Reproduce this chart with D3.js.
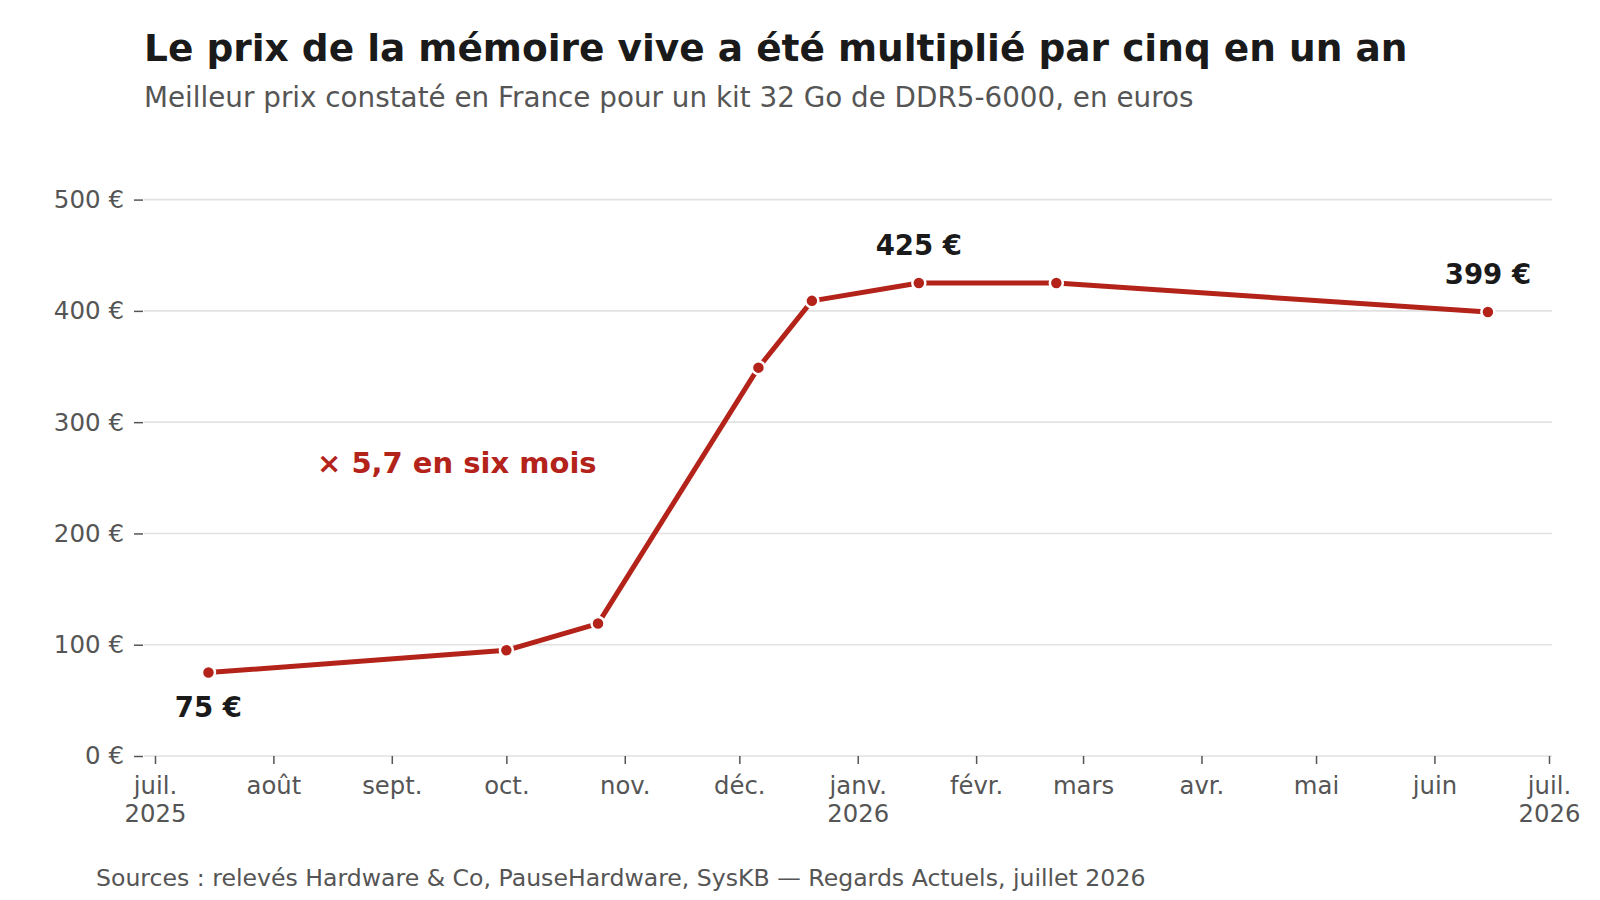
<!DOCTYPE html>
<html lang="fr">
<head>
<meta charset="utf-8">
<script src="https://cdn.jsdelivr.net/npm/d3@7"></script>
<style>
  html, body { margin: 0; padding: 0; background: #fff; }
  svg { display: block; font-family: "DejaVu Sans", sans-serif; }
</style>
</head>
<body>
<svg id="chart" width="1600" height="900"></svg>
<script>
// ---- Data ----
const dates = ["2025-07-15", "2025-10-01", "2025-10-25", "2025-12-06", "2025-12-20", "2026-01-17", "2026-02-22", "2026-06-15"];
const prices = [75, 95, 119, 349, 409, 425, 425, 399];
const monthLabels = ["juil.", "août", "sept.", "oct.", "nov.", "déc.", "janv.", "févr.", "mars", "avr.", "mai", "juin", "juil."];
const yearLabels = ["2025", "", "", "", "", "", "2026", "", "", "", "", "", "2026"];
const yTicks = [0, 100, 200, 300, 400, 500];
const labelled = [
  { i: 0, text: "75 €", pos: "below" },
  { i: 5, text: "425 €", pos: "above" },
  { i: 7, text: "399 €", pos: "above" }
];
const titleText = "Le prix de la mémoire vive a été multiplié par cinq en un an";
const subtitleText = "Meilleur prix constaté en France pour un kit 32 Go de DDR5-6000, en euros";
const annotationText = "× 5,7 en six mois";
const sourceText = "Sources : relevés Hardware & Co, PauseHardware, SysKB — Regards Actuels, juillet 2026";

const parse = d3.timeParse("%Y-%m-%d");
const data = dates.map((d, i) => ({ date: parse(d), value: prices[i] }));

const RED = "#b3231a";
const GREY = "#555555";
const GRID = "#e2e2e2";

const svg = d3.select("#chart");

const x = d3.scaleTime()
  .domain([new Date(2025, 6, 1), new Date(2026, 6, 1)])
  .range([155, 1549]);
const y = d3.scaleLinear().domain([0, 500]).range([756, 199.6]);

const gridLeft = 144, gridRight = 1552;

// Title & subtitle
svg.append("text").attr("x", 144).attr("y", 61)
  .attr("font-size", 37.5).attr("font-weight", "bold").attr("fill", "#1a1a1a")
  .text(titleText);
svg.append("text").attr("x", 144).attr("y", 107)
  .attr("font-size", 27.8).attr("fill", GREY)
  .text(subtitleText);

// Gridlines
svg.append("g").selectAll("line").data(yTicks).join("line")
  .attr("x1", gridLeft).attr("x2", gridRight)
  .attr("y1", d => y(d)).attr("y2", d => y(d))
  .attr("stroke", GRID).attr("stroke-width", 1.6);

// Y axis
const yAxis = svg.append("g").attr("transform", `translate(${gridLeft - 1},0)`)
  .call(d3.axisLeft(y).tickValues(yTicks).tickSize(9).tickPadding(10)
    .tickFormat(d => d + " €"));
yAxis.select(".domain").remove();
yAxis.selectAll(".tick line").attr("stroke", GREY).attr("stroke-width", 1.5);
yAxis.selectAll(".tick text").attr("font-size", 24.5).attr("fill", GREY)
  .attr("font-family", "DejaVu Sans, sans-serif");

// X axis
const months = d3.timeMonth.range(new Date(2025, 6, 1), new Date(2026, 6, 2));
const xAxis = svg.append("g").attr("transform", `translate(0,${y(0)})`)
  .call(d3.axisBottom(x).tickValues(months).tickSize(8).tickPadding(13)
    .tickFormat((d, i) => monthLabels[i]));
xAxis.select(".domain").remove();
xAxis.selectAll(".tick line").attr("stroke", GREY).attr("stroke-width", 1.5);
xAxis.selectAll(".tick text").attr("font-size", 24.3).attr("fill", GREY)
  .attr("font-family", "DejaVu Sans, sans-serif")
  .each(function (d, i) {
    const t = d3.select(this);
    if (yearLabels[i]) {
      t.append("tspan").attr("x", 0).attr("dy", "1.15em").text(yearLabels[i]);
    }
  });

// Line
const line = d3.line().x(d => x(d.date)).y(d => y(d.value));
svg.append("path").datum(data)
  .attr("d", line).attr("fill", "none")
  .attr("stroke", RED).attr("stroke-width", 5)
  .attr("stroke-linejoin", "round").attr("stroke-linecap", "round");

// Points
svg.append("g").selectAll("circle").data(data).join("circle")
  .attr("cx", d => x(d.date)).attr("cy", d => y(d.value))
  .attr("r", 6.5).attr("fill", RED)
  .attr("stroke", "#fff").attr("stroke-width", 2.5);

// Value labels
svg.append("g").selectAll("text").data(labelled).join("text")
  .attr("x", d => x(data[d.i].date))
  .attr("y", d => y(data[d.i].value) + (d.pos === "above" ? -28 : 44))
  .attr("text-anchor", "middle")
  .attr("font-size", 27.6).attr("font-weight", "bold").attr("fill", "#1a1a1a")
  .text(d => d.text);

// Annotation
svg.append("text").attr("x", 317).attr("y", 473)
  .attr("font-size", 29).attr("font-weight", "bold").attr("fill", RED)
  .text(annotationText);

// Source
svg.append("text").attr("x", 96).attr("y", 886)
  .attr("font-size", 23.6).attr("fill", GREY)
  .text(sourceText);
</script>
</body>
</html>
